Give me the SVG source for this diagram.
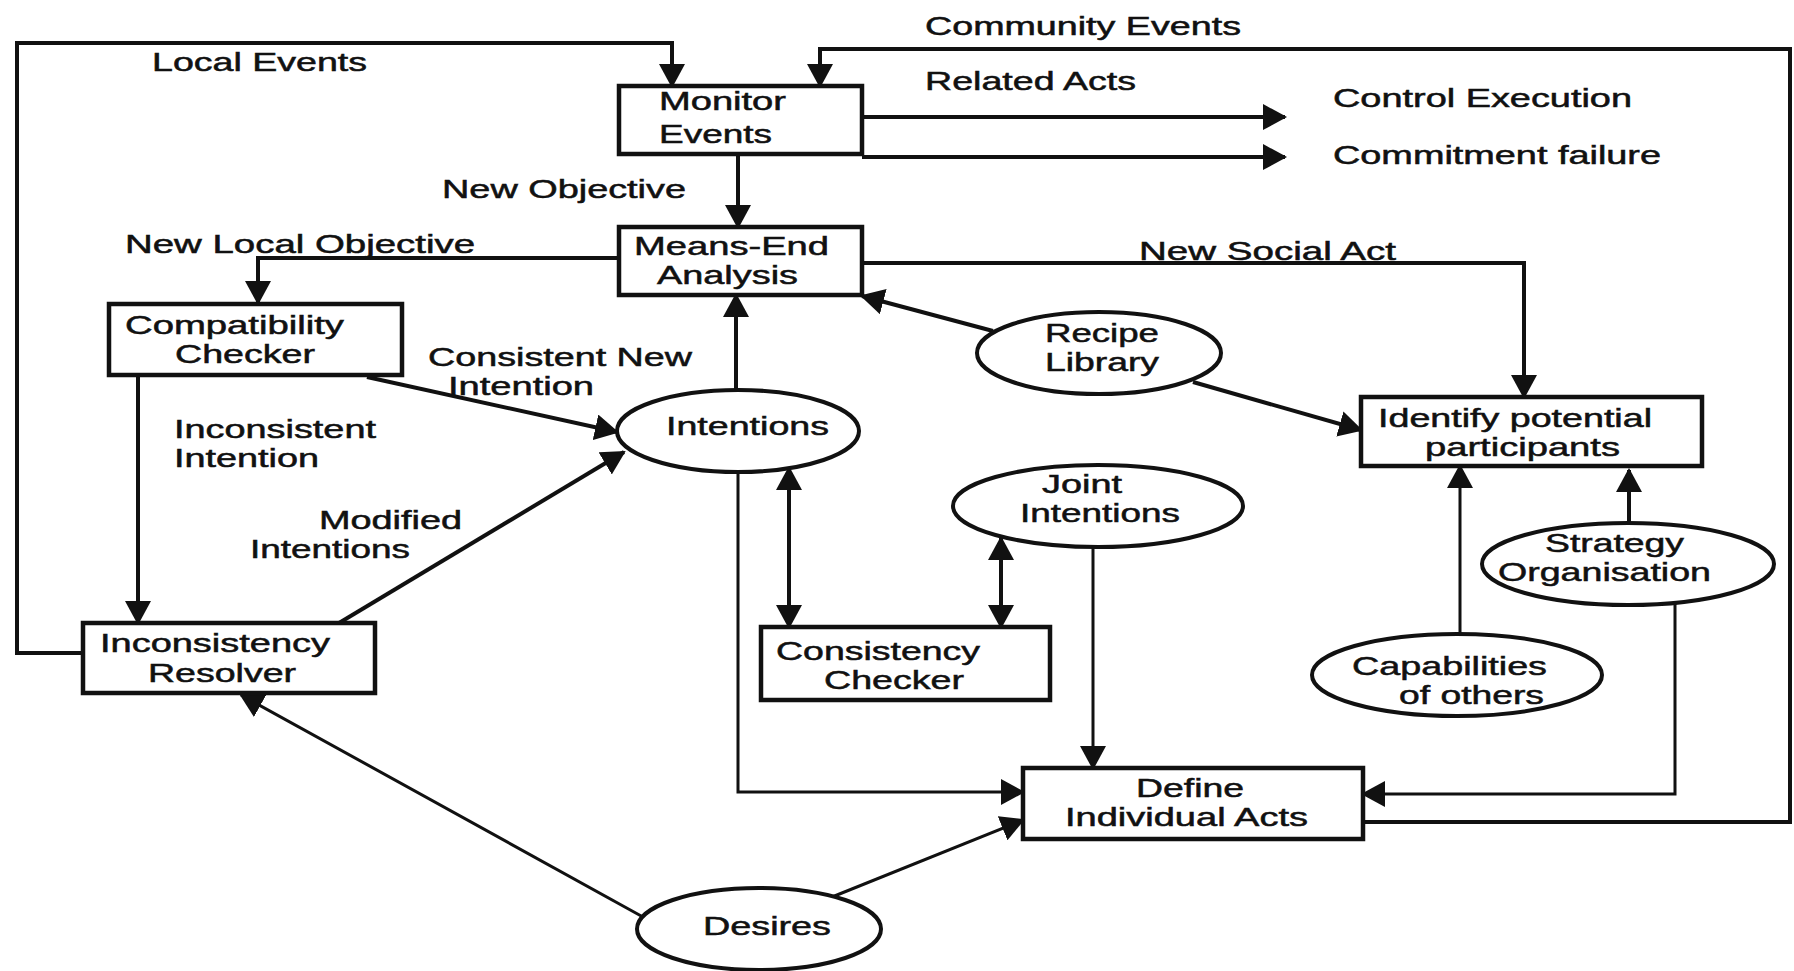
<svg xmlns="http://www.w3.org/2000/svg" width="1794" height="971" viewBox="0 0 1794 971">
  <style>
    .box { fill: #fff; stroke: #111; stroke-width: 4.5; }
    .oval { fill: #fff; stroke: #111; stroke-width: 4; }
    .wire { fill: none; stroke: #111; stroke-width: 4; marker-end: url(#ah); }
    .thin { stroke-width: 3; }
    .both { marker-start: url(#ah); }
    text { font-family: "Liberation Sans", Arial, sans-serif; font-size: 25px; fill: #111; stroke: #111; stroke-width: 0.5; }
  </style>
  <defs>
    <marker id="ah" viewBox="0 0 24 26" refX="22" refY="13" markerWidth="24" markerHeight="26" markerUnits="userSpaceOnUse" orient="auto-start-reverse">
      <path d="M0,0 L24,13 L0,26 z" fill="#111"/>
    </marker>
  </defs>
  <rect width="1794" height="971" fill="#fff"/>

  <!-- connectors and their labels -->
  <g id="connectors">
    <path class="wire" d="M83,653 H17 V43 H672 V86"/>
    <path class="wire" d="M1363,822 H1790 V49 H820 V86"/>
    <path class="wire" d="M862,117 H1285"/>
    <path class="wire" d="M862,157 H1285"/>
    <path class="wire" d="M738,154 V227"/>
    <path class="wire" d="M619,258 H258 V303"/>
    <path class="wire" d="M862,263 H1524 V397"/>
    <path class="wire" d="M993,331 L862,296"/>
    <path class="wire" d="M1193,382 L1361,430"/>
    <path class="wire" d="M367,377 L617,432"/>
    <path class="wire" d="M138,375 V623"/>
    <path class="wire" d="M339,623 L624,452"/>
    <path class="wire" d="M736,390 V295"/>
    <path class="wire both" d="M789,468 V627"/>
    <path class="wire thin" d="M738,472 V792 H1023"/>
    <path class="wire both" d="M1001,538 V627"/>
    <path class="wire thin" d="M1093,547 V768"/>
    <path class="wire thin" d="M832,897 L1023,820"/>
    <path class="wire thin" d="M643,917 L241,695"/>
    <path class="wire thin" d="M1460,634 V466"/>
    <path class="wire" d="M1629,523 V470"/>
    <path class="wire thin" d="M1675,603 V794 H1363"/>

    <text x="152" y="71" textLength="215" lengthAdjust="spacingAndGlyphs">Local Events</text>
    <text x="925" y="35" textLength="316" lengthAdjust="spacingAndGlyphs">Community Events</text>
    <text x="925" y="90" textLength="211" lengthAdjust="spacingAndGlyphs">Related Acts</text>
    <text x="1333" y="107" textLength="299" lengthAdjust="spacingAndGlyphs">Control Execution</text>
    <text x="1333" y="164" textLength="328" lengthAdjust="spacingAndGlyphs">Commitment failure</text>
    <text x="442" y="198" textLength="244" lengthAdjust="spacingAndGlyphs">New Objective</text>
    <text x="125" y="253" textLength="350" lengthAdjust="spacingAndGlyphs">New Local Objective</text>
    <text x="1139" y="260" textLength="257" lengthAdjust="spacingAndGlyphs">New Social Act</text>
    <text x="428" y="366" textLength="264" lengthAdjust="spacingAndGlyphs">Consistent New</text>
    <text x="448" y="395" textLength="146" lengthAdjust="spacingAndGlyphs">Intention</text>
    <text x="174" y="438" textLength="202" lengthAdjust="spacingAndGlyphs">Inconsistent</text>
    <text x="174" y="467" textLength="145" lengthAdjust="spacingAndGlyphs">Intention</text>
    <text x="319" y="529" textLength="143" lengthAdjust="spacingAndGlyphs">Modified</text>
    <text x="250" y="558" textLength="160" lengthAdjust="spacingAndGlyphs">Intentions</text>
  </g>

  <g id="monitor-events">
    <rect class="box" x="619" y="86" width="243" height="68"/>
    <text x="659" y="110" textLength="127" lengthAdjust="spacingAndGlyphs">Monitor</text>
    <text x="659" y="143" textLength="113" lengthAdjust="spacingAndGlyphs">Events</text>
  </g>

  <g id="means-end-analysis">
    <rect class="box" x="619" y="227" width="243" height="68"/>
    <text x="634" y="255" textLength="195" lengthAdjust="spacingAndGlyphs">Means-End</text>
    <text x="657" y="284" textLength="141" lengthAdjust="spacingAndGlyphs">Analysis</text>
  </g>

  <g id="compatibility-checker">
    <rect class="box" x="109" y="304" width="293" height="71"/>
    <text x="125" y="334" textLength="219" lengthAdjust="spacingAndGlyphs">Compatibility</text>
    <text x="175" y="363" textLength="140" lengthAdjust="spacingAndGlyphs">Checker</text>
  </g>

  <g id="inconsistency-resolver">
    <rect class="box" x="83" y="623" width="292" height="70"/>
    <text x="100" y="652" textLength="230" lengthAdjust="spacingAndGlyphs">Inconsistency</text>
    <text x="148" y="682" textLength="148" lengthAdjust="spacingAndGlyphs">Resolver</text>
  </g>

  <g id="intentions">
    <ellipse class="oval" cx="738" cy="431" rx="121" ry="41"/>
    <text x="666" y="435" textLength="163" lengthAdjust="spacingAndGlyphs">Intentions</text>
  </g>

  <g id="recipe-library">
    <ellipse class="oval" cx="1099" cy="353" rx="122" ry="41"/>
    <text x="1045" y="342" textLength="114" lengthAdjust="spacingAndGlyphs">Recipe</text>
    <text x="1045" y="371" textLength="114" lengthAdjust="spacingAndGlyphs">Library</text>
  </g>

  <g id="identify-potential-participants">
    <rect class="box" x="1361" y="397" width="341" height="69"/>
    <text x="1378" y="427" textLength="274" lengthAdjust="spacingAndGlyphs">Identify potential</text>
    <text x="1425" y="456" textLength="195" lengthAdjust="spacingAndGlyphs">participants</text>
  </g>

  <g id="joint-intentions">
    <ellipse class="oval" cx="1098" cy="506" rx="145" ry="41"/>
    <text x="1042" y="493" textLength="80" lengthAdjust="spacingAndGlyphs">Joint</text>
    <text x="1020" y="522" textLength="160" lengthAdjust="spacingAndGlyphs">Intentions</text>
  </g>

  <g id="consistency-checker">
    <rect class="box" x="761" y="627" width="289" height="73"/>
    <text x="776" y="660" textLength="204" lengthAdjust="spacingAndGlyphs">Consistency</text>
    <text x="824" y="689" textLength="140" lengthAdjust="spacingAndGlyphs">Checker</text>
  </g>

  <g id="strategy-organisation">
    <ellipse class="oval" cx="1628" cy="564" rx="146" ry="41"/>
    <text x="1545" y="552" textLength="139" lengthAdjust="spacingAndGlyphs">Strategy</text>
    <text x="1498" y="581" textLength="213" lengthAdjust="spacingAndGlyphs">Organisation</text>
  </g>

  <g id="capabilities-of-others">
    <ellipse class="oval" cx="1457" cy="675" rx="145" ry="41"/>
    <text x="1352" y="675" textLength="195" lengthAdjust="spacingAndGlyphs">Capabilities</text>
    <text x="1399" y="704" textLength="145" lengthAdjust="spacingAndGlyphs">of others</text>
  </g>

  <g id="define-individual-acts">
    <rect class="box" x="1023" y="768" width="340" height="71"/>
    <text x="1136" y="797" textLength="108" lengthAdjust="spacingAndGlyphs">Define</text>
    <text x="1065" y="826" textLength="243" lengthAdjust="spacingAndGlyphs">Individual Acts</text>
  </g>

  <g id="desires">
    <ellipse class="oval" cx="759" cy="929" rx="122" ry="41"/>
    <text x="703" y="935" textLength="128" lengthAdjust="spacingAndGlyphs">Desires</text>
  </g>
</svg>
